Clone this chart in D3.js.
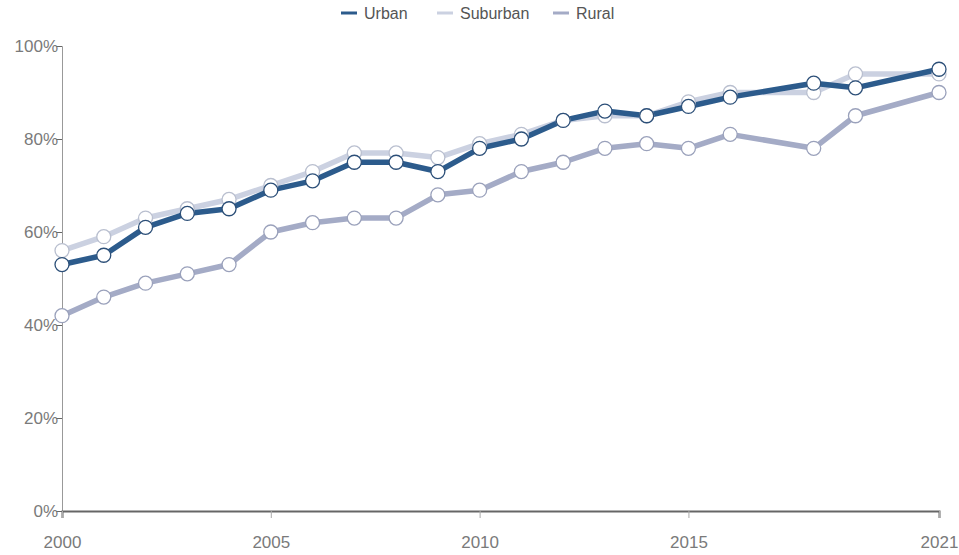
<!DOCTYPE html>
<html>
<head>
<meta charset="utf-8">
<script src="https://cdn.jsdelivr.net/npm/d3@7"></script>
<style>
  body { margin: 0; background: #fff; }
  svg { font-family: "Liberation Sans", sans-serif; }
  .axis text { fill: #7a7a7a; font-size: 17px; font-family: "Liberation Sans", sans-serif; }
</style>
</head>
<body>
<svg id="chart"></svg>
<script>
// survey years (no 2017 or 2020 point)
const years = [2000, 2001, 2002, 2003, 2004, 2005, 2006, 2007, 2008, 2009, 2010,
               2011, 2012, 2013, 2014, 2015, 2016, 2018, 2019, 2021];
const urban    = [53, 55, 61, 64, 65, 69, 71, 75, 75, 73, 78, 80, 84, 86, 85, 87, 89, 92, 91, 95];
const suburban = [56, 59, 63, 65, 67, 70, 73, 77, 77, 76, 79, 81, 84, 85, 85, 88, 90, 90, 94, 94];
const rural    = [42, 46, 49, 51, 53, 60, 62, 63, 63, 68, 69, 73, 75, 78, 79, 78, 81, 78, 85, 90];
const seriesNames = ["Urban", "Suburban", "Rural"];
const xTicks = [2000, 2005, 2010, 2015, 2021];
const yTicks = [0, 20, 40, 60, 80, 100];

const colors = {Urban: "#2c5b8c", Suburban: "#cbd1e1", Rural: "#a4abc6"};
const dotStroke = {Urban: "#2c4f78", Suburban: "#b9bfcf", Rural: "#9aa1bb"};

var margin = {top: 46, right: 19, bottom: 43, left: 62},
    width = 959 - margin.left - margin.right,
    height = 555 - margin.top - margin.bottom;

const svg = d3.select("#chart")
    .attr("width", width + margin.left + margin.right)
    .attr("height", height + margin.top + margin.bottom);

const g = svg.append("g")
    .attr("transform", "translate(" + margin.left + "," + margin.top + ")");

var x = d3.scaleLinear().domain([2000, 2021]).range([0, width - 1]);
var y = d3.scaleLinear().domain([0, 100]).range([height - 1, 0]);

// y axis
const yAxis = g.append("g")
    .attr("class", "axis")
    .call(d3.axisLeft(y).tickValues(yTicks).tickSize(6).tickFormat(d => d + "%"));
yAxis.select(".domain").attr("stroke", "#999");
yAxis.selectAll(".tick line").attr("stroke", "#666");
yAxis.selectAll(".tick text").attr("x", -4).attr("dy", "0.35em");

// x axis
const xAxis = g.append("g")
    .attr("class", "axis")
    .attr("transform", "translate(0," + (height - 1) + ")")
    .call(d3.axisBottom(x).tickValues(xTicks).tickSize(7).tickFormat(d3.format("d")));
xAxis.select(".domain").attr("stroke", "#666").attr("stroke-width", 2);
xAxis.selectAll(".tick line").attr("stroke", "#aaa");
xAxis.selectAll(".tick text").attr("y", 25);

const data = {
  Urban: years.map((yr, i) => ({year: yr, value: urban[i]})),
  Suburban: years.map((yr, i) => ({year: yr, value: suburban[i]})),
  Rural: years.map((yr, i) => ({year: yr, value: rural[i]}))
};

const line = d3.line().x(d => x(d.year)).y(d => y(d.value));

// draw rural first so urban sits on top
const order = ["Rural", "Suburban", "Urban"];
order.forEach(name => {
  g.append("path")
    .datum(data[name])
    .attr("fill", "none")
    .attr("stroke", colors[name])
    .attr("stroke-width", 5.5)
    .attr("stroke-linejoin", "round")
    .attr("d", line);
});
order.forEach(name => {
  g.append("g")
    .selectAll("circle")
    .data(data[name])
    .enter()
    .append("circle")
    .attr("cx", d => x(d.year))
    .attr("cy", d => y(d.value))
    .attr("r", 7)
    .attr("fill", "#fff")
    .attr("stroke", dotStroke[name])
    .attr("stroke-width", 1.3);
});

// legend
const legendX = [341, 437, 553];
const legend = svg.append("g");
seriesNames.forEach((name, i) => {
  legend.append("line")
    .attr("x1", legendX[i]).attr("x2", legendX[i] + 16)
    .attr("y1", 13).attr("y2", 13)
    .attr("stroke", colors[name]).attr("stroke-width", 3);
  legend.append("text")
    .attr("x", legendX[i] + 23).attr("y", 19)
    .attr("fill", "#555").attr("font-size", 16)
    .text(name);
});
</script>
</body>
</html>
